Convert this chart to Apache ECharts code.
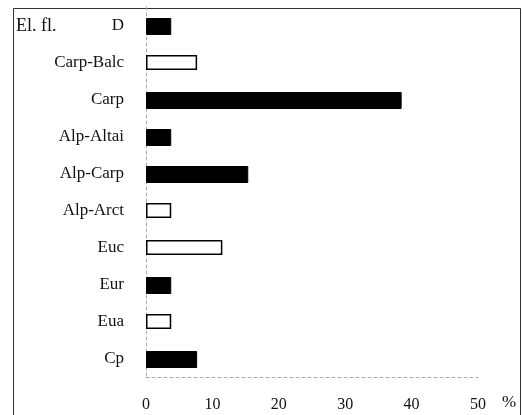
<!DOCTYPE html>
<html>
<head>
<meta charset="utf-8">
<script src="https://cdn.jsdelivr.net/npm/echarts@6/dist/echarts.min.js"></script>
<style>
  html, body { margin: 0; padding: 0; background: #fff; }
  #chart { width: 522px; height: 415px; }
</style>
</head>
<body>
<div id="chart"></div>
<script>
// Floristic elements (El. fl.), share of species in %
const categories = ['D', 'Carp-Balc', 'Carp', 'Alp-Altai', 'Alp-Carp', 'Alp-Arct', 'Euc', 'Eur', 'Eua', 'Cp'];
// solid bars
const filledValues = [3.8, null, 38.5, 3.8, 15.4, null, null, 3.8, null, 7.7];
// outlined bars
const openValues = [null, 7.7, null, null, null, 3.8, 11.5, null, 3.8, null];
const xTicks = [0, 10, 20, 30, 40, 50];

const font = '"Liberation Serif", "DejaVu Serif", serif';
const chart = echarts.init(document.getElementById('chart'), null, { renderer: 'canvas' });

chart.setOption({
  animation: false,
  backgroundColor: '#fff',
  grid: { left: 146, right: 44, top: 7, bottom: 38, containLabel: false },
  xAxis: {
    type: 'value',
    min: xTicks[0],
    max: xTicks[xTicks.length - 1],
    interval: 10,
    axisLine: { show: true, lineStyle: { color: '#aaa', width: 1, type: [3, 3] } },
    axisTick: { show: false },
    splitLine: { show: false },
    axisLabel: { margin: 20, color: '#111', fontFamily: font, fontSize: 16 }
  },
  yAxis: {
    type: 'category',
    data: categories,
    inverse: true,
    axisLine: { show: true, lineStyle: { color: '#aaa', width: 1, type: [3, 3] } },
    axisTick: { show: false },
    axisLabel: { margin: 22, color: '#111', fontFamily: font, fontSize: 17 }
  },
  series: [
    {
      name: 'filled',
      type: 'bar',
      data: filledValues,
      barWidth: 17,
      barGap: '-100%',
      itemStyle: { color: '#000', borderColor: '#000', borderWidth: 1 }
    },
    {
      name: 'open',
      type: 'bar',
      data: openValues,
      barWidth: 15,
      barGap: '-100%',
      itemStyle: { color: '#fff', borderColor: '#000', borderWidth: 1.5 }
    }
  ],
  graphic: [
    {
      type: 'polyline',
      shape: { points: [[13.5, 420], [13.5, 8.5], [520.5, 8.5], [520.5, 420]] },
      style: { stroke: '#333', lineWidth: 1, fill: null }
    },
    {
      type: 'text',
      left: 16, top: 17,
      style: { text: 'El. fl.', font: '18px ' + font, fill: '#111' }
    },
    {
      type: 'text',
      left: 502, top: 394,
      style: { text: '%', font: '17px ' + font, fill: '#111' }
    }
  ]
});
</script>
</body>
</html>
